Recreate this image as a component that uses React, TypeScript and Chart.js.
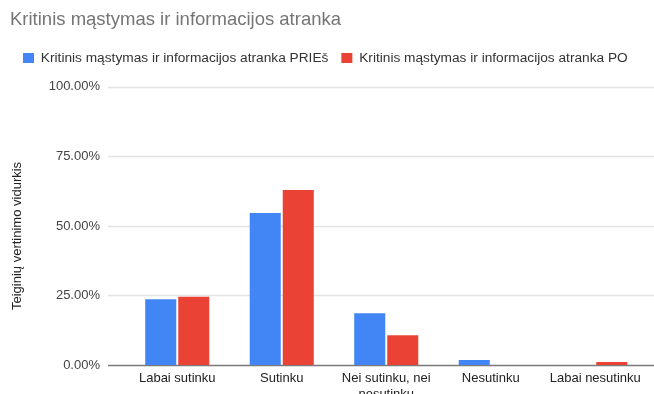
import React, { useEffect, useRef } from "react";
import { Chart, registerables } from "chart.js";

Chart.register(...registerables);

const titleText = "Kritinis mąstymas ir informacijos atranka";
const yAxisTitle = "Teiginių vertinimo vidurkis";
const categories: (string | string[])[] = [
  "Labai sutinku",
  "Sutinku",
  ["Nei sutinku, nei", "nesutinku"],
  "Nesutinku",
  "Labai nesutinku",
];
const seriesNames = [
  "Kritinis mąstymas ir informacijos atranka PRIEš",
  "Kritinis mąstymas ir informacijos atranka PO",
];
const priesValues = [23.6, 54.7, 18.6, 1.8, 0];
const poValues = [24.5, 62.9, 10.7, 0, 1.1];
const yTicks = [0, 25, 50, 75, 100];

const FONT = "Arial, 'Liberation Sans', sans-serif";

const gridPlugin = {
  id: "extGrid",
  beforeDatasetsDraw(chart: any) {
    const { ctx } = chart;
    const y = chart.scales.y;
    ctx.save();
    yTicks.forEach((v) => {
      const py = Math.round(y.getPixelForValue(v)) + 0.5;
      ctx.beginPath();
      ctx.moveTo(108, py);
      ctx.lineTo(654, py);
      ctx.lineWidth = 1.5;
      ctx.strokeStyle = v === 0 ? "#7a7a7a" : "#e3e3e3";
      ctx.stroke();
    });
    ctx.restore();
  },
  afterDraw(chart: any) {
    const { ctx } = chart;
    const y = chart.scales.y;
    const cy = (y.getPixelForValue(0) + y.getPixelForValue(100)) / 2 + 10;
    ctx.save();
    ctx.translate(17, cy);
    ctx.rotate(-Math.PI / 2);
    ctx.fillStyle = "#222";
    ctx.font = "13px " + FONT;
    ctx.textAlign = "center";
    ctx.textBaseline = "middle";
    ctx.fillText(yAxisTitle, 0, 0);
    ctx.restore();
  },
};

export default function App() {
  const ref = useRef<HTMLCanvasElement | null>(null);
  useEffect(() => {
    if (!ref.current) return;
    const chart = new Chart(ref.current, {
      type: "bar",
      data: {
        labels: categories,
        datasets: [
          {
            label: seriesNames[0],
            data: priesValues,
            backgroundColor: "#4285F4",
            borderWidth: 0,
          },
          {
            label: seriesNames[1],
            data: poValues,
            backgroundColor: "#EA4335",
            borderWidth: 0,
          },
        ],
      },
      options: {
        animation: false,
        responsive: false,
        layout: { padding: { left: 10, right: 6.5, top: 0, bottom: 0 } },
        datasets: {
          bar: { categoryPercentage: 0.632, barPercentage: 0.94 },
        },
        plugins: {
          tooltip: { enabled: false },
          title: {
            display: true,
            text: titleText,
            align: "start",
            color: "#757575",
            font: { family: FONT, size: 18.5, weight: "normal" },
            padding: { top: 9, bottom: 7 },
          },
          subtitle: {
            display: true,
            text: "",
            weight: 500,
            font: { size: 10, lineHeight: 1 },
            padding: { top: 2, bottom: 0 },
          },
          legend: {
            display: true,
            position: "top",
            align: "start",
            labels: {
              boxWidth: 11,
              boxHeight: 10,
              padding: 13,
              color: "#333",
              font: { family: FONT, size: 13.7 },
            },
          },
        },
        scales: {
          x: {
            grid: { display: false, drawTicks: false },
            border: { display: false },
            ticks: {
              color: "#222",
              padding: 6,
              font: { family: FONT, size: 13 },
              maxRotation: 0,
              autoSkip: false,
            },
            afterFit(scale: any) {
              scale.height = 29;
              scale.paddingBottom = 0;
              scale.paddingTop = 0;
            },
          },
          y: {
            min: 0,
            max: 100,
            grid: { display: false, drawTicks: false },
            border: { display: false },
            ticks: {
              stepSize: 25,
              color: "#444",
              padding: 25,
              font: { family: FONT, size: 13 },
              callback: (v: any) => Number(v).toFixed(2) + "%",
            },
            afterFit(scale: any) {
              scale.width = 115;
              scale.paddingBottom = 0;
            },
          },
        },
      },
      plugins: [gridPlugin],
    });
    return () => chart.destroy();
  }, []);
  return (
    <div style={{ position: "absolute", left: 0, top: 0, width: 654, height: 394, background: "#fff" }}>
      <canvas ref={ref} width={654} height={394} style={{ display: "block" }} />
    </div>
  );
}
